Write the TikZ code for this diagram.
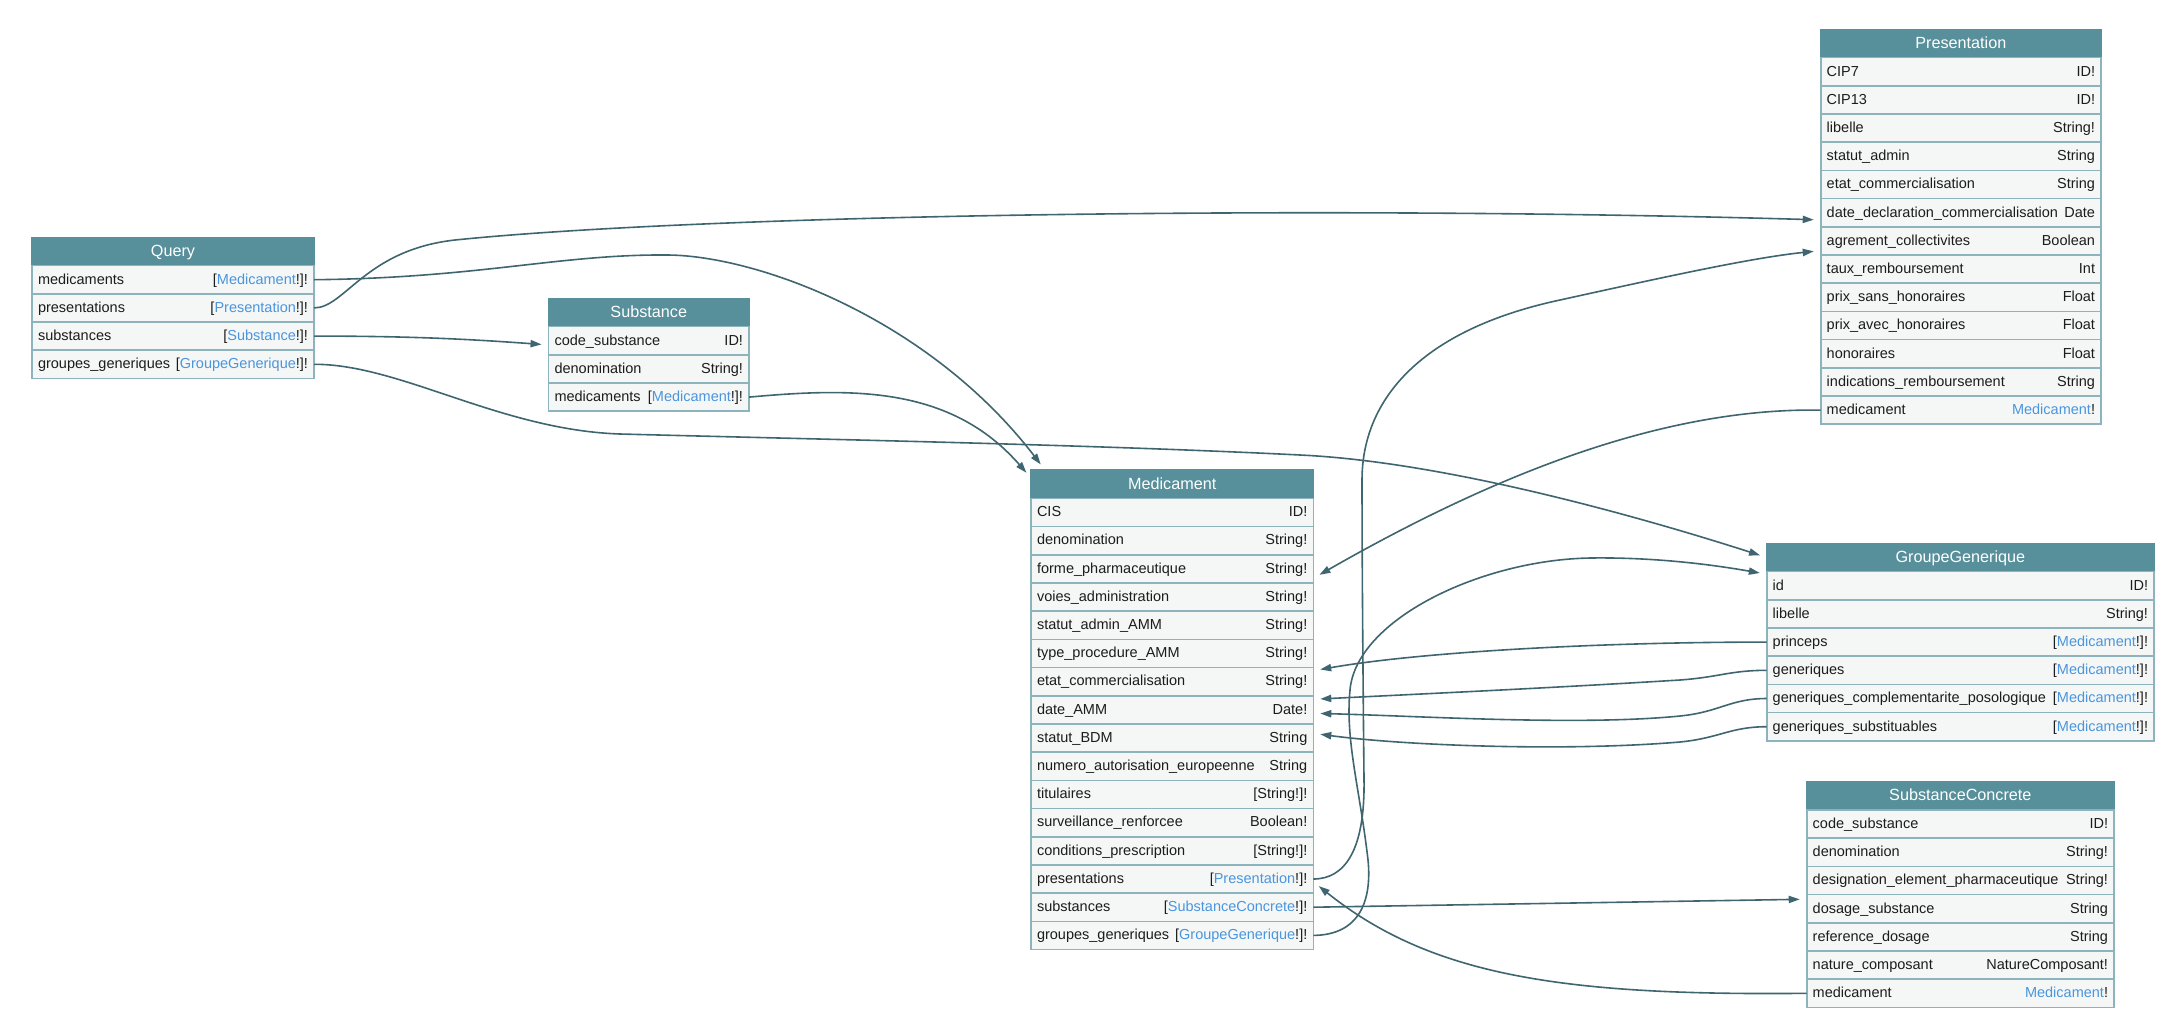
\documentclass[tikz,border=0pt]{standalone}
\usepackage{fontspec}
\setmainfont{Liberation Sans}
\usetikzlibrary{positioning,arrows.meta}
\hyphenpenalty=10000
\exhyphenpenalty=10000
\definecolor{thead}{HTML}{578F9B}
\definecolor{tfill}{HTML}{F5F7F7}
\definecolor{tline}{HTML}{8DB3BD}
\definecolor{ttext}{HTML}{1C1C1C}
\definecolor{tlink}{HTML}{4A95DC}
\definecolor{tedge}{HTML}{3F6570}
\newcommand{\typeref}[1]{\textcolor{tlink}{#1}}
\tikzset{
  head/.style={fill=thead, draw=thead, line width=0.8pt, text=white,
    minimum width=#1, minimum height=14.15pt, inner sep=0pt, outer sep=0pt,
    text height=6.6pt, text depth=1.5pt, anchor=north west,
    font=\fontsize{8.1pt}{9.7pt}\selectfont},
  field/.style={fill=tfill, draw=tline, line width=0.8pt, text=ttext,
    text width=#1, minimum height=14.1pt, inner xsep=3pt, inner ysep=0pt,
    outer sep=0pt, text height=5.8pt, text depth=1.5pt,
    font=\fontsize{7.25pt}{8.7pt}\selectfont},
  rel/.style={draw=tedge, line width=0.8pt, ->, shorten >=3.5pt},
  >={Triangle[length=5.5pt,width=3.6pt]}
}

\begin{document}
\begin{tikzpicture}[x=0.5pt, y=-0.5pt]
    \path[use as bounding box, fill=white] (0,0) rectangle (2182,1023);

    \node[head=141pt] (q) at (32,237.3) {Query};
    \node[field=135pt, below=0pt of q] (q1) {medicaments\hfill[\typeref{Medicament}!]!};
    \node[field=135pt, below=0pt of q1] (q2) {presentations\hfill[\typeref{Presentation}!]!};
    \node[field=135pt, below=0pt of q2] (q3) {substances\hfill[\typeref{Substance}!]!};
    \node[field=135pt, below=0pt of q3] (q4) {groupes\_generiques\hfill[\typeref{GroupeGenerique}!]!};

    \node[head=100.25pt] (s) at (548.5,298.3) {Substance};
    \node[field=94.25pt, below=0pt of s] (s1) {code\_substance\hfill ID!};
    \node[field=94.25pt, below=0pt of s1] (s2) {denomination\hfill String!};
    \node[field=94.25pt, below=0pt of s2] (s3) {medicaments\hfill[\typeref{Medicament}!]!};

    \node[head=141.15pt] (m) at (1031,470) {Medicament};
    \node[field=135.15pt, below=0pt of m] (m1) {CIS\hfill ID!};
    \node[field=135.15pt, below=0pt of m1] (m2) {denomination\hfill String!};
    \node[field=135.15pt, below=0pt of m2] (m3) {forme\_pharmaceutique\hfill String!};
    \node[field=135.15pt, below=0pt of m3] (m4) {voies\_administration\hfill String!};
    \node[field=135.15pt, below=0pt of m4] (m5) {statut\_admin\_AMM\hfill String!};
    \node[field=135.15pt, below=0pt of m5] (m6) {type\_procedure\_AMM\hfill String!};
    \node[field=135.15pt, below=0pt of m6] (m7) {etat\_commercialisation\hfill String!};
    \node[field=135.15pt, below=0pt of m7] (m8) {date\_AMM\hfill Date!};
    \node[field=135.15pt, below=0pt of m8] (m9) {statut\_BDM\hfill String};
    \node[field=135.15pt, below=0pt of m9] (m10) {numero\_autorisation\_europeenne\hfill String};
    \node[field=135.15pt, below=0pt of m10] (m11) {titulaires\hfill[String!]!};
    \node[field=135.15pt, below=0pt of m11] (m12) {surveillance\_renforcee\hfill Boolean!};
    \node[field=135.15pt, below=0pt of m12] (m13) {conditions\_prescription\hfill[String!]!};
    \node[field=135.15pt, below=0pt of m13] (m14) {presentations\hfill[\typeref{Presentation}!]!};
    \node[field=135.15pt, below=0pt of m14] (m15) {substances\hfill[\typeref{SubstanceConcrete}!]!};
    \node[field=135.15pt, below=0pt of m15] (m16) {groupes\_generiques\hfill[\typeref{GroupeGenerique}!]!};

    \node[head=140.15pt] (p) at (1820.7,29.3) {Presentation};
    \node[field=134.15pt, below=0pt of p] (p1) {CIP7\hfill ID!};
    \node[field=134.15pt, below=0pt of p1] (p2) {CIP13\hfill ID!};
    \node[field=134.15pt, below=0pt of p2] (p3) {libelle\hfill String!};
    \node[field=134.15pt, below=0pt of p3] (p4) {statut\_admin\hfill String};
    \node[field=134.15pt, below=0pt of p4] (p5) {etat\_commercialisation\hfill String};
    \node[field=134.15pt, below=0pt of p5] (p6) {date\_declaration\_commercialisation\hfill Date};
    \node[field=134.15pt, below=0pt of p6] (p7) {agrement\_collectivites\hfill Boolean};
    \node[field=134.15pt, below=0pt of p7] (p8) {taux\_remboursement\hfill Int};
    \node[field=134.15pt, below=0pt of p8] (p9) {prix\_sans\_honoraires\hfill Float};
    \node[field=134.15pt, below=0pt of p9] (p10) {prix\_avec\_honoraires\hfill Float};
    \node[field=134.15pt, below=0pt of p10] (p11) {honoraires\hfill Float};
    \node[field=134.15pt, below=0pt of p11] (p12) {indications\_remboursement\hfill String};
    \node[field=134.15pt, below=0pt of p12] (p13) {medicament\hfill\typeref{Medicament}!};

    \node[head=193.65pt] (g) at (1766.7,543.3) {GroupeGenerique};
    \node[field=187.65pt, below=0pt of g] (g1) {id\hfill ID!};
    \node[field=187.65pt, below=0pt of g1] (g2) {libelle\hfill String!};
    \node[field=187.65pt, below=0pt of g2] (g3) {princeps\hfill[\typeref{Medicament}!]!};
    \node[field=187.65pt, below=0pt of g3] (g4) {generiques\hfill[\typeref{Medicament}!]!};
    \node[field=187.65pt, below=0pt of g4] (g5) {generiques\_complementarite\_posologique\hfill[\typeref{Medicament}!]!};
    \node[field=187.65pt, below=0pt of g5] (g6) {generiques\_substituables\hfill[\typeref{Medicament}!]!};

    \node[head=153.65pt] (c) at (1806.7,781.7) {SubstanceConcrete};
    \node[field=147.65pt, below=0pt of c] (c1) {code\_substance\hfill ID!};
    \node[field=147.65pt, below=0pt of c1] (c2) {denomination\hfill String!};
    \node[field=147.65pt, below=0pt of c2] (c3) {designation\_element\_pharmaceutique\hfill String!};
    \node[field=147.65pt, below=0pt of c3] (c4) {dosage\_substance\hfill String};
    \node[field=147.65pt, below=0pt of c4] (c5) {reference\_dosage\hfill String};
    \node[field=147.65pt, below=0pt of c5] (c6) {nature\_composant\hfill NatureComposant!};
    \node[field=147.65pt, below=0pt of c6] (c7) {medicament\hfill\typeref{Medicament}!};

    \draw[rel] (q1.east) .. controls (480,278) and (560,254) .. (668,255)
      .. controls (760,256) and (930,320) .. ([xshift=7pt]m.north west);
    \draw[rel] (q2.east) .. controls (345,308) and (365,250) .. (455,240)
      .. controls (700,215) and (1300,205) .. ([yshift=-3.6pt]p6.west);
    \draw[rel] (q3.east) .. controls (420,336) and (480,340) .. ([yshift=-2.1pt]s1.west);
    \draw[rel] (q4.east) .. controls (400,364) and (500,430) .. (620,434)
      .. controls (850,440) and (1100,445) .. (1300,455)
      .. controls (1450,462) and (1650,520) .. (g.west);
    \draw[rel] (s3.east) .. controls (850,388) and (950,385) .. ([yshift=-4pt]m.north west);
    \draw[rel] (m14.east) .. controls (1345,879) and (1365,850) .. (1364,780)
      .. controls (1363,680) and (1362,560) .. (1362,480)
      .. controls (1362,400) and (1420,330) .. (1560,300)
      .. controls (1660,278) and (1750,258) .. ([yshift=-4.85pt]p7.west);
    \draw[rel] (m15.east) -- ([yshift=4.75pt]c4.west);
    \draw[rel] (m16.east) .. controls (1360,935) and (1372,900) .. (1368,860)
      .. controls (1360,790) and (1345,740) .. (1350,690)
      .. controls (1356,620) and (1480,560) .. (1590,558)
      .. controls (1660,557) and (1720,566) .. ([yshift=-1.3pt]g.south west);
    \draw[rel] (p13.west) .. controls (1680,408) and (1520,460) .. ([yshift=-4.75pt]m3.east);
    \draw[rel] (g3.west) .. controls (1600,642) and (1420,652) .. ([yshift=5.45pt]m7.east);
    \draw[rel] (g4.west) .. controls (1730,670.4) and (1720,677) .. (1680,680)
      .. controls (1550,688) and (1420,694) .. ([yshift=5.25pt]m8.east);
    \draw[rel] (g5.west) .. controls (1730,698.6) and (1720,712) .. (1680,716)
      .. controls (1580,726) and (1420,716) .. ([yshift=-1.75pt]m8.east);
    \draw[rel] (g6.west) .. controls (1730,726.8) and (1720,738) .. (1680,742)
      .. controls (1560,752) and (1400,745) .. ([yshift=2.35pt]m9.east);
    \draw[rel] (c7.west) .. controls (1560,996) and (1430,975) .. ([yshift=-1.35pt]m14.east);
\end{tikzpicture}
\end{document}
